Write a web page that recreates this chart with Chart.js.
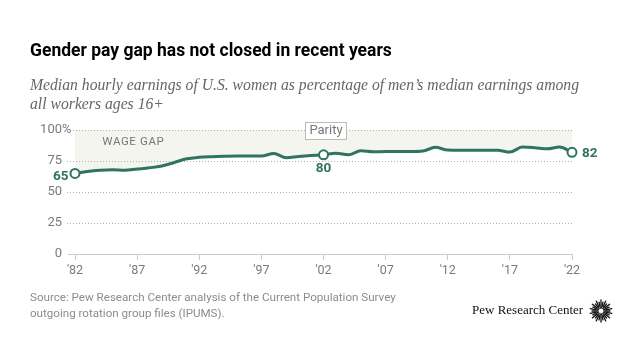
<!DOCTYPE html>
<html><head><meta charset="utf-8">
<script src="https://cdn.jsdelivr.net/npm/chart.js@4.4.1/dist/chart.umd.min.js"></script>
<style>
html,body{margin:0;padding:0;background:#fff;}
body{width:640px;height:360px;position:relative;overflow:hidden;}
#c{position:absolute;left:0;top:0;}
.t{position:absolute;white-space:nowrap;z-index:2;}
#title{left:30px;top:40px;font:bold 17.5px "Roboto",sans-serif;color:#000;line-height:20px;}
#sub{left:30px;top:75px;font:italic 15.7px "Liberation Serif",serif;color:#666;line-height:19px;}
#src{left:30px;top:289px;font:11.6px "Roboto",sans-serif;color:#8c8c8c;line-height:16px;}
#logo{left:472px;top:302px;font:13px "Liberation Serif",serif;color:#111;}
#icon{position:absolute;left:589px;top:299px;z-index:2;}
</style></head>
<body>
<div class="t" id="title">Gender pay gap has not closed in recent years</div>
<div class="t" id="sub">Median hourly earnings of U.S. women as percentage of men’s median earnings among<br>all workers ages 16+</div>
<div class="t" id="src">Source: Pew Research Center analysis of the Current Population Survey<br>outgoing rotation group files (IPUMS).</div>
<div class="t" id="logo">Pew Research Center</div>
<svg id="icon" width="24" height="24" viewBox="0 0 24 24"></svg>
<canvas id="c" width="640" height="360"></canvas>
<script>
// ---- data ----
const years = [1982,1983,1984,1985,1986,1987,1988,1989,1990,1991,1992,1993,1994,1995,1996,1997,1998,1999,2000,2001,2002,2003,2004,2005,2006,2007,2008,2009,2010,2011,2012,2013,2014,2015,2016,2017,2018,2019,2020,2021,2022];
const ratio = [65,66.5,67.5,68,67.5,68.5,69.5,71,73.8,76.8,78,78.5,78.8,79,79,79,81,77.6,78.7,79.5,80,81.3,80,83.2,82.4,82.6,82.6,82.6,83,86,83.8,83.6,83.6,83.6,83.6,82.2,86.2,85.7,84.9,86.2,82];
const labeledYears = [1982,2002,2022];
const yTickValues = [0,25,50,75,100];
const xTickYears = [1982,1987,1992,1997,2002,2007,2012,2017,2022];
const gapLabel = "WAGE GAP";
const parityLabel = "Parity";

// logo icon (decoration)
(function(){
  const svg=document.getElementById('icon');let s='';
  for(let i=0;i<28;i++){const a=i/28*Math.PI*2;const r0=(i%2?5:3),r1=(i%2?11:9);
    s+=`<line x1="${12+r0*Math.cos(a)}" y1="${12+r0*Math.sin(a)}" x2="${12+r1*Math.cos(a)}" y2="${12+r1*Math.sin(a)}" stroke="#111" stroke-width="1.3" stroke-linecap="round"/>`;}
  svg.innerHTML=s;
})();

const GREEN = '#2f7461';
const labelPlugin = {
  id:'pewDecor',
  beforeDatasetsDraw(chart){
    const ctx=chart.ctx, ys=chart.scales.y, ca=chart.chartArea;
    ctx.save();
    ctx.strokeStyle='#b0b0b0'; ctx.lineWidth=1; ctx.setLineDash([1,2]);
    yTickValues.forEach(v=>{
      if(v===0) return;
      const y=Math.round(ys.getPixelForValue(v))+0.5;
      ctx.beginPath(); ctx.moveTo(v===100?73:67,y); ctx.lineTo(ca.right,y); ctx.stroke();
    });
    ctx.setLineDash([]); ctx.strokeStyle='#cccccc';
    const y0=Math.round(ys.getPixelForValue(0))+0.5;
    ctx.beginPath(); ctx.moveTo(68,y0); ctx.lineTo(ca.left,y0); ctx.stroke();
    // y labels
    ctx.fillStyle='#7a7a7a'; ctx.font='13px Roboto, sans-serif'; ctx.textBaseline='middle';
    yTickValues.forEach(v=>{
      const y=ys.getPixelForValue(v);
      ctx.textAlign='right'; ctx.fillText(String(v),62,y);
      if(v===100){ctx.textAlign='left'; ctx.fillText('%',62,y);}
    });
    // wage gap label
    const xs=chart.scales.x;
    ctx.font='11.5px Roboto, sans-serif'; ctx.letterSpacing='0.6px'; ctx.textAlign='left'; ctx.fillStyle='#777';
    ctx.fillText(gapLabel, xs.getPixelForValue(1984.2), ys.getPixelForValue(90));
    ctx.letterSpacing='0px';
    ctx.restore();
  },
  afterDatasetsDraw(chart){
    const ctx=chart.ctx, xs=chart.scales.x, ys=chart.scales.y;
    const meta=chart.getDatasetMeta(0);
    ctx.save();
    // parity box
    const px=xs.getPixelForValue(2002)+2.5, py=ys.getPixelForValue(100)-0.5;
    ctx.font='13px Roboto, sans-serif';
    const w=ctx.measureText(parityLabel).width+8;
    ctx.fillStyle='#fff'; ctx.strokeStyle='#bbb'; ctx.lineWidth=1;
    ctx.fillRect(Math.round(px-w/2)+0.5,Math.round(py-8)+0.5,Math.round(w),17);
    ctx.strokeRect(Math.round(px-w/2)+0.5,Math.round(py-8)+0.5,Math.round(w),17);
    ctx.fillStyle='#777'; ctx.textAlign='center'; ctx.textBaseline='middle';
    ctx.fillText(parityLabel,px,py+1);
    // value labels
    ctx.fillStyle=GREEN; ctx.font='bold 13.5px Roboto, sans-serif';
    labeledYears.forEach((yr,k)=>{
      const i=years.indexOf(yr); const p=meta.data[i]; const txt=String(ratio[i]);
      if(k===0){ctx.textAlign='right'; ctx.fillText(txt,p.x-6.5,p.y+3.5);}
      else if(k===1){ctx.textAlign='center'; ctx.fillText(txt,p.x,p.y+14);}
      else {ctx.textAlign='left'; ctx.fillText(txt,p.x+10,p.y+1);}
    });
    ctx.restore();
  }
};

new Chart(document.getElementById('c'),{
  type:'line',
  data:{datasets:[{
    data: years.map((y,i)=>({x:y,y:ratio[i]})),
    borderColor:GREEN, borderWidth:3, backgroundColor:'#f5f5f0',
    fill:{value:100}, cubicInterpolationMode:'monotone', clip:false,
    pointRadius: c => labeledYears.includes(years[c.dataIndex]) ? 4.5 : 0,
    pointBackgroundColor:'#fff', pointBorderColor:GREEN, pointBorderWidth:2,
    pointHoverRadius:0
  }]},
  options:{
    responsive:false, animation:false, events:[],
    layout:{padding:{top:130,right:68,bottom:76,left:0}},
    plugins:{legend:{display:false}, tooltip:{enabled:false}, filler:{drawTime:'beforeDatasetsDraw'}},
    scales:{
      x:{type:'linear',min:1982,max:2022,
        afterBuildTicks: s => { s.ticks = xTickYears.map(v=>({value:v})); },
        afterFit: s => { s.height = 30; },
        ticks:{callback:v=>"'"+String(v).slice(2), color:'#7a7a7a', font:{family:'Roboto',size:12.5}, padding:3, maxRotation:0, autoSkip:false},
        grid:{drawOnChartArea:false, drawTicks:true, tickLength:6, color:'#cccccc'},
        border:{display:true,color:'#cccccc',width:1}
      },
      y:{min:0,max:100,
        afterFit: s => { s.width = 75; },
        ticks:{display:false}, grid:{display:false}, border:{display:false}
      }
    }
  },
  plugins:[labelPlugin]
});
</script>
</body></html>
